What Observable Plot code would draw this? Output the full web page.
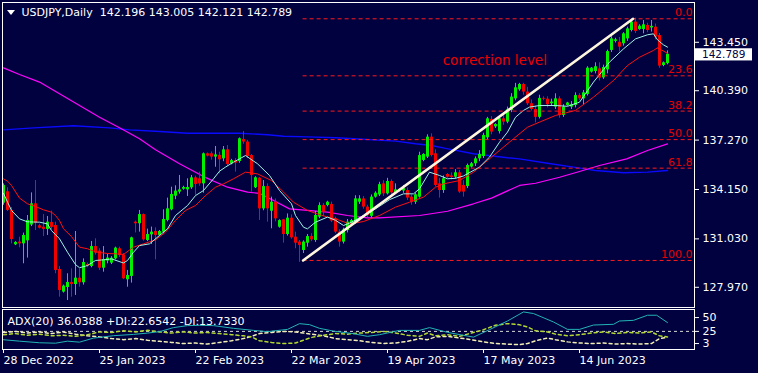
<!DOCTYPE html>
<html><head><meta charset="utf-8">
<script src="https://cdn.jsdelivr.net/npm/d3@7"></script>
<script src="https://cdn.jsdelivr.net/npm/@observablehq/plot@0.6"></script>
<style>
html,body{margin:0;padding:0;background:#01013f;}
#chart{position:relative;width:758px;height:373px;background:#01013f;overflow:hidden;}
#chart svg{position:absolute;left:0;}
</style></head><body><div id="chart"></div>
<script>
// ---------- data ----------
const symbolTitle = "USDJPY,Daily";
// [open, high, low, close] per bar, bar 0 = 28 Dec 2022
const candles = [
[133.38,134.60,133.25,134.50],[134.10,134.35,132.85,132.92],[132.92,133.10,130.81,131.08],[130.75,130.95,130.70,130.90],[130.92,131.23,130.56,130.81],
[130.81,131.49,129.55,131.34],[131.00,132.60,129.91,132.29],[132.00,134.03,131.90,133.34],[133.34,134.81,131.65,132.12],[131.95,132.05,131.75,131.80],
[131.86,132.66,131.27,131.72],[131.72,132.54,131.34,132.18],[132.16,132.88,131.70,131.85],[131.97,132.18,128.92,129.13],[129.19,129.38,127.44,127.86],
[127.76,128.20,127.70,128.14],[128.05,128.92,127.23,128.37],[128.37,129.23,127.44,128.24],[128.24,131.59,127.55,128.64],[128.64,129.21,128.07,128.35],
[128.35,129.86,128.20,129.63],[129.50,129.60,129.30,129.40],[129.38,130.96,129.30,130.64],[130.64,131.13,130.10,130.22],[130.35,130.50,129.13,129.27],
[129.27,130.64,129.02,129.82],[129.72,130.15,129.55,129.91],[129.59,130.00,129.50,129.90],[129.86,130.60,129.80,130.54],[130.50,130.60,129.95,130.07],
[130.11,130.20,128.55,128.60],[128.54,129.13,128.07,128.81],[128.75,131.23,128.33,131.19],[132.18,132.25,131.50,132.08],[132.08,132.92,131.55,132.66],
[132.66,132.70,130.98,131.06],[131.02,131.74,130.95,131.40],[131.38,131.87,130.77,131.55],[131.59,131.82,129.80,131.34],[131.34,131.65,131.30,131.59],
[131.55,132.96,131.45,132.35],[132.29,133.70,132.20,133.02],[132.96,134.39,132.90,133.93],[133.82,134.48,133.60,134.14],[134.08,135.13,133.95,134.22],
[134.26,134.45,134.20,134.37],[134.22,134.92,133.80,134.37],[134.35,135.13,134.25,134.98],[134.98,135.09,133.87,134.56],[134.92,135.34,134.45,134.60],
[134.60,136.55,134.01,136.50],[136.50,136.55,136.30,136.35],[136.50,136.62,136.10,136.29],[136.29,136.96,135.65,136.43],[136.40,136.60,135.23,136.12],
[136.18,136.96,136.00,136.75],[136.75,137.02,135.70,135.82],[135.86,136.15,135.80,136.07],[136.07,136.20,135.34,135.91],[136.01,137.50,135.90,137.45],
[137.40,137.91,137.10,137.24],[137.24,137.35,136.20,136.33],[136.39,136.45,134.08,135.13],[134.35,135.05,134.30,134.98],[134.96,135.00,132.29,133.02],
[133.02,134.81,132.90,134.43],[134.43,134.60,132.18,133.02],[132.87,133.76,131.76,133.44],[133.44,133.65,132.20,132.39],[131.86,132.33,131.80,132.28],
[132.33,132.35,130.85,131.40],[131.40,132.70,131.30,132.43],[132.43,132.64,131.10,131.19],[131.23,131.55,130.50,130.85],[130.92,131.02,129.64,130.71],
[130.39,131.00,130.20,130.92],[130.85,131.40,130.60,131.27],[131.27,131.45,130.95,131.06],[131.02,132.85,130.90,132.60],[132.50,133.40,132.40,133.23],
[133.23,133.35,132.55,132.81],[133.23,133.50,133.15,133.44],[133.30,133.45,132.15,132.25],[132.40,132.50,131.45,131.55],[131.55,131.70,130.60,130.92],
[130.92,131.80,130.80,131.69],[131.65,132.35,131.50,132.18],[132.07,132.35,132.00,132.28],[132.18,133.85,132.05,133.65],[133.44,133.85,133.30,133.65],
[133.65,133.80,133.00,133.13],[133.13,133.25,132.45,132.60],[132.55,133.90,132.45,133.76],[133.76,134.10,133.70,134.01],[133.90,134.70,133.80,134.55],
[134.60,134.80,133.80,133.97],[133.97,134.95,133.90,134.75],[134.75,134.85,133.90,134.03],[134.03,134.60,133.95,134.22],[134.25,134.30,134.05,134.15],
[134.15,134.50,134.00,134.30],[134.18,134.35,133.55,133.70],[133.76,133.90,133.25,133.44],[133.44,134.00,133.30,133.91],[133.76,136.60,133.70,136.39],
[136.08,136.50,136.00,136.46],[136.29,137.70,136.20,137.55],[137.55,137.76,136.30,136.39],[136.50,136.75,134.40,134.50],[134.60,134.95,133.70,134.18],
[134.18,135.10,134.00,134.92],[135.19,135.25,134.95,135.02],[135.10,135.30,134.85,135.00],[135.02,135.50,134.90,135.30],[135.30,135.45,134.00,134.08],
[134.50,134.80,133.76,134.08],[134.43,135.85,134.30,135.76],[135.66,135.95,135.60,135.87],[135.87,136.30,135.70,136.18],[136.18,136.70,136.00,136.46],
[136.33,137.80,136.20,137.66],[137.51,138.80,137.40,138.71],[138.67,138.85,137.70,137.87],[138.20,138.40,138.10,138.35],[137.90,138.80,137.75,138.71],
[138.71,139.00,138.30,138.50],[138.50,139.45,138.40,139.28],[139.24,140.30,139.10,140.08],[139.97,140.95,139.85,140.67],[140.54,140.95,140.45,140.88],
[140.88,140.95,140.20,140.40],[140.40,140.70,139.55,139.66],[139.66,139.90,139.20,139.30],[139.30,139.50,138.45,138.80],[138.80,140.20,138.70,140.00],
[140.00,140.10,139.85,139.95],[139.95,140.10,139.40,139.60],[139.66,139.95,139.50,139.77],[139.45,140.29,139.30,139.97],[139.97,140.10,138.75,138.92],
[138.92,139.60,138.80,139.45],[139.55,139.75,139.50,139.71],[139.45,139.80,139.30,139.60],[139.55,140.35,139.40,140.18],[140.18,140.30,139.85,139.97],
[139.97,140.50,139.60,140.35],[140.25,142.00,140.15,141.91],[141.66,141.95,141.60,141.91],[141.70,142.25,141.55,142.00],[141.87,142.25,141.10,141.28],
[141.30,142.10,141.20,141.95],[141.80,143.05,141.55,142.96],[143.03,143.90,142.90,143.76],[143.60,143.80,143.50,143.70],[143.55,143.85,142.93,143.24],
[143.45,144.15,143.30,144.08],[143.76,144.50,143.60,144.39],[144.29,145.00,144.20,144.82],[144.82,145.07,144.10,144.23],[144.35,144.65,144.30,144.56],
[144.35,144.92,144.08,144.65],[144.61,144.75,144.15,144.29],[144.45,144.92,144.19,144.55],[144.50,144.70,143.70,143.87],[143.97,144.10,141.90,142.04],
[142.08,142.30,142.00,142.25],[142.196,143.005,142.121,142.789]
];
const priceTicks = [143.45, 140.39, 137.27, 134.15, 131.03, 127.97];
const dateTickBars = [0, 24, 48, 72, 96, 120, 144];
const dateTickLabels = ["28 Dec 2022","25 Jan 2023","22 Feb 2023","22 Mar 2023","19 Apr 2023","17 May 2023","14 Jun 2023"];
const fibLevels = [0.0, 23.6, 38.2, 50.0, 61.8, 100.0];
const fibHigh = 145.03, fibLow = 129.76, fibStartBar = 74.9;
const trendLine = [[74.9, 129.76], [157.4, 145.03]];
const annotation = {text: "correction level", bar: 109.8, price: 142.39};
// moving averages [bar, value]
const maFast = [[0,134.0],[1,133.45],[2,132.92],[4,132.39],[6,132.2],[9,132.18],[11,132.07],[12,131.65],[14,131.13],[16,130.28],[18,129.5],[19,129.3],[21,129.44],[23,129.76],[25,129.8],[27,129.86],[30,129.6],[31,129.76],[32.5,130.28],[34,130.7],[36.5,130.81],[39,131.34],[41,131.76],[43,132.6],[46,133.23],[48,133.86],[50,134.18],[52.5,134.92],[54,135.4],[55.5,135.66],[57.5,135.97],[60.5,136.39],[63.5,135.87],[66.5,135.13],[69,134.18],[72,133.34],[73,132.6],[75,131.86],[76,131.76],[78,132.18],[81,132.5],[83,132.3],[85,131.97],[87,132.18],[90,132.6],[93,133.02],[96.5,133.6],[100,133.97],[102.5,133.97],[104,134.29],[106.5,135.34],[109,135.13],[111,134.92],[113,134.95],[115,135.1],[119,135.66],[121.5,136.29],[124,137.23],[126,137.87],[128,138.81],[130,139.24],[131.5,139.45],[134,139.55],[138,139.55],[141,139.5],[144,139.76],[147.5,141.03],[151.5,142.29],[155,143.13],[158,143.76],[161,144.02],[162.5,144.08],[163.5,143.7],[165,143.38],[166,143.24]];
const maMid = [[0,134.92],[1,134.77],[2,134.5],[4,133.7],[6,133.34],[8,133.17],[10,132.96],[12,132.81],[13,132.6],[14,132.28],[15,131.76],[17,131.27],[19,130.6],[21,130.5],[23,130.3],[26,130.2],[28,130.18],[30,130.14],[32.5,130.6],[35,130.81],[38,131.06],[40.5,131.55],[43,132.29],[45.5,132.92],[48,133.23],[50.5,133.86],[53,134.39],[55,134.6],[57.5,134.92],[60.5,135.34],[63.5,135.23],[67,134.81],[70,134.08],[72.5,133.44],[76,132.92],[78.5,132.7],[81,132.5],[83,132.39],[86.5,132.07],[90,132.22],[94,132.6],[98,133.13],[101.5,133.44],[105,133.76],[108,134.39],[110,134.6],[114,134.81],[117.5,135.34],[121,136.08],[124,136.71],[127.5,137.45],[131,138.18],[134,138.5],[138,138.92],[143,139.24],[147.5,140.08],[152.5,141.13],[156,142.08],[159,142.6],[162.5,143.03],[163.5,143.2],[166,142.85]];
const maSlow = [[0,141.93],[4,141.51],[9,141.03],[14,140.29],[19,139.55],[24,138.81],[29,138.14],[34,137.45],[38,136.75],[44,135.87],[50,135.06],[56,134.39],[61,134.08],[64,134.0],[67.5,133.55],[71.5,133.02],[76,132.92],[81,132.81],[86,132.6],[91,132.45],[94,132.45],[104,132.6],[111,132.87],[117.5,133.34],[122,133.7],[129,134.5],[133,134.64],[139,135.02],[144,135.38],[149,135.76],[155.8,136.18],[161,136.71],[166,137.13]];
const maLong = [[0,138.01],[7.5,138.14],[17.5,138.27],[26.5,138.14],[31.5,138.01],[39,137.91],[46,137.8],[59,137.8],[66,137.7],[70,137.61],[76,137.57],[83,137.51],[91,137.4],[98,137.3],[103,137.13],[107,137.02],[110.5,136.84],[117.5,136.5],[126,136.25],[129,136.18],[136,135.9],[142.5,135.66],[148,135.44],[155,135.3],[161,135.34],[166,135.44]];
// ADX(20) sub-window [bar, value]
const adxLine = [[0,9.9],[4,7.3],[9,4.4],[13,3.6],[16,7.3],[19,5.5],[22.5,12.8],[27.5,17.2],[32.5,19.5],[36,21.9],[39,24.5],[42.5,31.8],[46,35.4],[49,36],[52.5,35.4],[57.5,30.5],[62.5,26.8],[66,24.5],[71,28.6],[74,39],[76.5,37.2],[79,30.5],[82.5,25.5],[87.5,20.8],[91,16],[94,19],[99,26.8],[104,26.8],[106.5,31.8],[111,23.2],[117.5,14.6],[121.5,28.1],[126,43.8],[130,60.2],[132.5,57.3],[137.5,42],[141,28.6],[144,28.6],[147.5,36.5],[152.5,37.8],[154,43.8],[157.5,45],[161,54.2],[163.3,54.2],[166,40.9]];
const plusDI = [[0,19],[3,21],[6,18],[9,20],[12,17],[15,18],[18,16],[21,19],[24,24],[27,23],[30,26],[33,24],[36,27],[39,24],[42,22],[45,24],[48,22],[51,23],[54,21],[57,19],[60,17],[62,15],[64,8],[67,5],[70,3],[73,4],[75,9],[77,14],[80,18],[83,21],[86,20],[89,22],[92,23],[95,25],[98,22],[101,18],[104,16],[106,22],[108,17],[111,19],[114,16],[117,22],[120,28],[123,36],[126,39],[129,37],[131,33],[133,26],[136,24],[138,20],[141,17],[144,19],[147,22],[150,24],[153,21],[156,23],[159,22],[162,24],[164,17],[166,15]];
const minusDI = [[0,23],[3,25],[6,22],[9,24],[12,21],[15,24],[18,20],[21,17],[24,15],[27,12],[30,10],[33,12],[36,9],[39,7],[42,5],[45,3],[48,4],[51,2],[54,5],[57,8],[60,12],[62,16],[64,21],[67,23],[70,25],[73,24],[75,22],[77,20],[80,17],[83,12],[86,10],[89,8],[92,5],[95,3],[98,4],[101,7],[104,12],[106,10],[108,15],[111,16],[114,13],[117,10],[120,6],[123,3],[126,2],[129,1],[131,3],[133,8],[136,13],[138,10],[141,6],[144,4],[147,3],[150,4],[153,2],[156,3],[159,2],[162,3],[164,12],[166,14]];
const adxTicks = [50, 25, 3];
const adxLevel = 25;
const adxHeader = "ADX(20) 36.0388 +DI:22.6542 -DI:13.7330";

// ---------- drawing ----------
const W = 758;
const FONT = "DejaVu Sans";
const BULL = "#00f000", BEAR = "#f00000", FIB = "#ff1a1a", FIBTXT = "#e80000";
const xDomain = [-0.25, 172.75];
const bars = candles.map(([o,h,l,c],i)=>({i,o,h,l,c,col: c>=o ? BULL : BEAR}));
const last = bars[bars.length-1];
const fmt3 = d3.format(".3f");
const title = `${symbolTitle}  ${fmt3(last.o)} ${fmt3(last.h)} ${fmt3(last.l)} ${fmt3(last.c)}`;
const fib = fibLevels.map(level => ({level, p: fibHigh - (fibHigh - fibLow) * level / 100}));
const xy = {x: d => d[0], y: d => d[1]};

const main = Plot.plot({
  width: W, height: 308,
  marginLeft: 2, marginRight: 64, marginTop: 2, marginBottom: 1,
  style: {background: "transparent", color: "#ffffff", fontFamily: FONT, fontSize: "11px", overflow: "visible"},
  x: {domain: xDomain, axis: null},
  y: {domain: [126.788, 146.059]},
  color: {type: "identity"},
  marks: [
    Plot.line(maLong, {...xy, stroke: "#0a0aff", strokeWidth: 1.4}),
    Plot.line(maSlow, {...xy, stroke: "#ff00ff", strokeWidth: 1.2}),
    Plot.ruleX(bars, {x: "i", y1: "l", y2: "h", stroke: "col", strokeWidth: 1}),
    Plot.ruleX(bars, {x: "i", y1: "o", y2: "c", stroke: "col", strokeWidth: 3}),
    Plot.line(maMid, {...xy, stroke: "#ff1010", strokeWidth: 1}),
    Plot.line(maFast, {...xy, stroke: "#a0f4e6", strokeWidth: 1}),
    Plot.ruleY(fib, {y: "p", x1: fibStartBar, x2: xDomain[1], stroke: FIB, strokeDasharray: "4,3"}),
    Plot.text(fib, {x: xDomain[1], y: "p", text: d => d.level.toFixed(1), textAnchor: "end", dx: -2, dy: -6, fill: FIBTXT, fontSize: 11}),
    Plot.line(trendLine, {...xy, stroke: "#fff6de", strokeWidth: 2.6}),
    Plot.text([annotation], {x: "bar", y: "price", text: "text", textAnchor: "start", fill: FIBTXT, fontSize: 13.5}),
    Plot.axisY({anchor: "right", ticks: priceTicks, tickFormat: fmt3, tickSize: 4, tickPadding: 4, label: null, fontSize: 11, dy: -1.5}),
    Plot.frame({stroke: "#ffffff"}),
    Plot.text([title], {frameAnchor: "top-left", dx: 19, dy: 6, lineAnchor: "top", textAnchor: "start", fill: "#ffffff", fontSize: 11})
  ]
});
main.style.top = "0px";
document.getElementById("chart").appendChild(main);

// current price marker on the right axis
{
  const ys = main.scale("y"), xs = main.scale("x");
  const yc = ys.apply(last.c), xr = xs.range[1];
  const g = d3.select(main).append("g");
  g.append("rect").attr("x", xr + 1).attr("y", yc - 5.5).attr("width", 57).attr("height", 12.2).attr("fill", "#ffffff");
  g.append("text").attr("x", xr + 8).attr("y", yc + 4.6).attr("text-anchor", "start").attr("fill", "#01013f")
    .attr("font-family", FONT).attr("font-size", 10.5).text(fmt3(last.c));
  g.append("polygon").attr("points", "7,10 15,10 11,15").attr("fill", "#ffffff");
}

const dateTicks = dateTickBars.map((bar, i) => ({bar, label: dateTickLabels[i]}));
const sub = Plot.plot({
  width: W, height: 65,
  marginLeft: 2, marginRight: 64, marginTop: 1, marginBottom: 24,
  style: {background: "transparent", color: "#ffffff", fontFamily: FONT, fontSize: "11px", overflow: "visible"},
  x: {domain: xDomain, axis: null},
  y: {domain: [-7.8, 64.6]},
  marks: [
    Plot.ruleY([adxLevel], {stroke: "#d8d8d8", strokeDasharray: "3,3"}),
    Plot.line(minusDI, {...xy, stroke: "#f4f0b4", strokeDasharray: "3,3"}),
    Plot.line(plusDI, {...xy, stroke: "#b4d830", strokeDasharray: "3,3"}),
    Plot.line(adxLine, {...xy, stroke: "#22b4b4", strokeWidth: 1}),
    Plot.axisY({anchor: "right", ticks: adxTicks, tickSize: 4, tickPadding: 4, label: null, fontSize: 11}),
    Plot.axisX({anchor: "bottom", ticks: dateTickBars, tickSize: 4, tickFormat: () => "", label: null}),
    Plot.text(dateTicks, {x: "bar", text: "label", frameAnchor: "bottom", textAnchor: "start", lineAnchor: "top", dy: 7, fill: "#ffffff", fontSize: 11}),
    Plot.frame({stroke: "#ffffff"}),
    Plot.text([adxHeader], {frameAnchor: "top-left", dx: 5, dy: 8, lineAnchor: "top", textAnchor: "start", fill: "#ffffff", fontSize: 11})
  ]
});
sub.style.top = "308px";
document.getElementById("chart").appendChild(sub);
</script>
</body></html>
